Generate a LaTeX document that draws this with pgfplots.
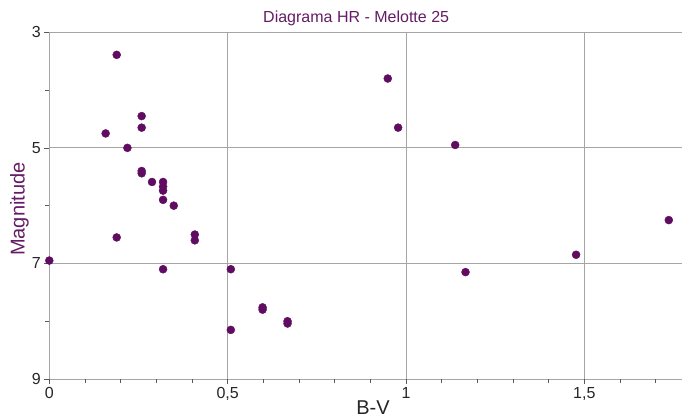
\documentclass[border=0pt]{standalone}
\usepackage{pgfplots}
\pgfplotsset{compat=1.18}
\usepackage{fontspec}
\setmainfont{Liberation Sans}
\definecolor{pt}{RGB}{96,12,96}
\definecolor{tx}{RGB}{100,28,100}
\definecolor{gr}{RGB}{165,165,165}
\pgfplotstableread{
x y
0.189 3.39
0.259 4.45
0.259 4.65
0.158 4.75
0.219 5.00
0.259 5.40
0.259 5.44
0.288 5.59
0.319 5.59
0.319 5.67
0.319 5.74
0.319 5.90
0.349 6.00
0.189 6.55
0.408 6.50
0.408 6.60
0.000 6.95
0.319 7.10
0.509 7.10
0.598 7.76
0.598 7.80
0.668 8.00
0.668 8.04
0.509 8.15
0.949 3.80
0.978 4.65
1.138 4.95
1.167 7.15
1.477 6.85
1.737 6.25
}\stars
\begin{document}
\begin{tikzpicture}
\begin{axis}[
  at={(0,0)}, anchor=south west,
  scale only axis, width=632.7pt, height=346.7pt,
  xmin=0, xmax=1.774, ymin=3, ymax=9, y dir=reverse,
  xtick={0,0.5,1,1.5}, ytick={3,5,7,9},
  minor xtick={0.1,0.2,0.3,0.4,0.6,0.7,0.8,0.9,1.1,1.2,1.3,1.4,1.6,1.7},
  minor ytick={4,6,8},
  grid=major, major grid style={draw=gr, line width=0.8pt},
  minor grid style={draw=none},
  axis line style={draw=none},
  xtick pos=left, ytick pos=left,
  tick align=outside, major tick length=5pt, minor tick length=4pt,
  tick style={draw=gray!70!black, line width=0.6pt},
  /pgf/number format/.cd, use comma, assume math mode=true,
  /pgfplots/.cd,
  ticklabel style={font=\fontsize{16}{16}\selectfont, text=black!85},
  xlabel={B-V}, ylabel={Magnitude},
  xlabel style={font=\fontsize{20}{20}\selectfont, text=black!85, inner sep=0pt, at={(axis description cs:0.5116,0)}, anchor=base, yshift=-35pt},
  ylabel style={font=\fontsize{20}{20}\selectfont, text=tx, at={(axis description cs:-0.0471,0.49)}, anchor=center},
  title={Diagrama HR - Melotte 25},
  title style={font=\fontsize{16}{16}\selectfont, text=tx, at={(axis description cs:0.485,1)}, anchor=base, yshift=4pt},
]
\addplot[only marks, mark=*, mark size=4pt, color=pt] table[x=x, y=y] {\stars};
\end{axis}
\pgfresetboundingbox
\path[use as bounding box] (-49.3pt,-38pt) rectangle (632.7pt,379pt);
\end{tikzpicture}
\end{document}
